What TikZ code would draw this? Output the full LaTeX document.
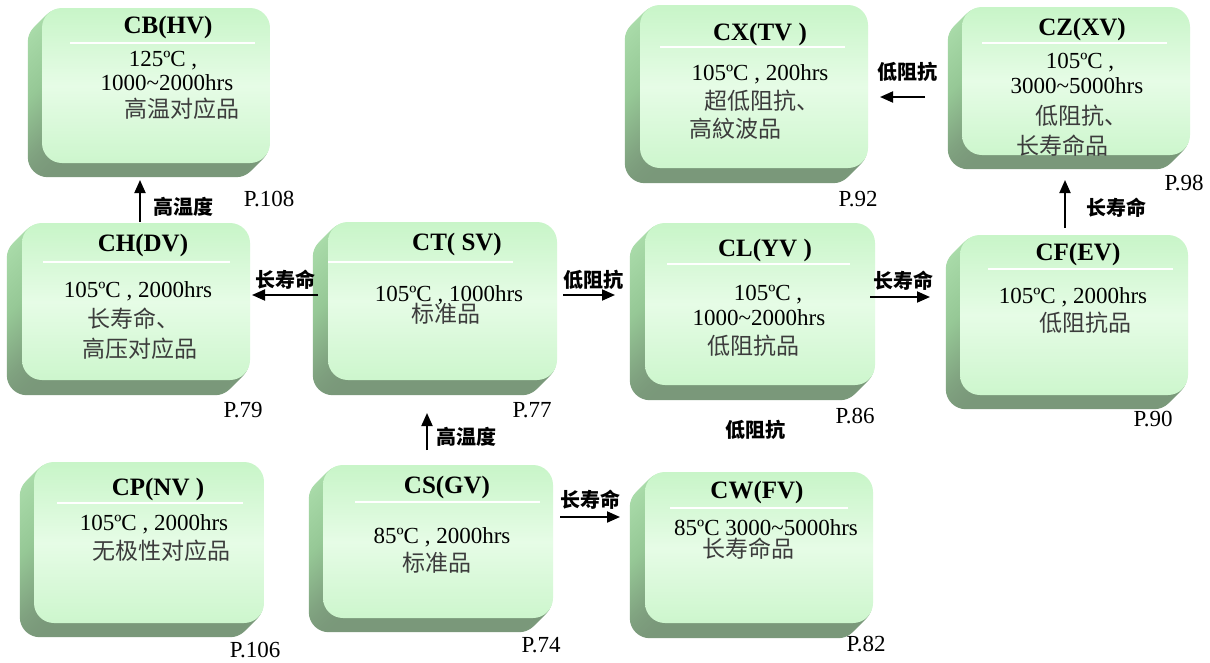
\documentclass[tikz,border=0pt]{standalone}
\usepackage{fontspec}
\setmainfont{Liberation Serif}
\newfontfamily\cjk{Noto Sans CJK SC}
\usetikzlibrary{arrows.meta,backgrounds,calc}
\definecolor{facetop}{RGB}{200,245,200}
\definecolor{facemid}{RGB}{230,252,230}
\definecolor{facebot}{RGB}{205,246,205}
\definecolor{sidetop}{RGB}{172,222,172}
\definecolor{sidemid}{RGB}{150,200,150}
\definecolor{sidebot}{RGB}{122,152,122}
\definecolor{cntext}{RGB}{60,60,60}
\tikzset{
  face/.style={rounded corners=20pt, draw=none, inner sep=0pt, top color=facetop, bottom color=facebot, middle color=facemid},
  side/.style={rounded corners=20pt, top color=sidetop, bottom color=sidebot, middle color=sidemid},
  ttl/.style={font=\fontsize{25}{28}\selectfont\bfseries, anchor=base, yshift=-8.5pt, inner sep=0pt},
  lat/.style={font=\fontsize{23}{26}\selectfont, anchor=base, yshift=-8pt, inner sep=0pt},
  cn/.style={font=\cjk\fontsize{23}{26}\selectfont, text=cntext, anchor=base, yshift=-9pt, inner sep=0pt},
  pg/.style={lat},
  lbl/.style={font=\cjk\bfseries\fontsize{20}{24}\selectfont, anchor=base, yshift=-7.5pt, inner sep=0pt},
  arr/.style={line width=1.9pt, -{Triangle[length=13pt,width=11pt]}},
  tline/.style={white, line width=2pt},
}
\newcommand\capbox[6]{%
  \node[face, minimum width=#4pt, minimum height=#5pt] (#1) at (#2,#3) {};
  \begin{scope}[on background layer]
    \foreach \i in {#6,...,1}
      \path[side] ($(#1.south west)+(-\i,\i)$) rectangle ($(#1.north east)+(-\i,\i)$);
  \end{scope}
}
\begin{document}
\begin{tikzpicture}[x=1pt,y=-1pt]
\begin{scope}[on background layer]
  \fill[white] (0,0) rectangle (1210,662);
\end{scope}
\useasboundingbox (0,0) rectangle (1210,662);

% CB
\capbox{cb}{156}{85.5}{228}{155}{14}
\draw[tline] (70,43) -- (255,43);
\node[ttl] (cbt) at (168,25) {CB(HV)};
\node[lat] (cb1) at (163,58) {125ºC ,};
\node[lat] (cb2) at (167,82) {1000\textasciitilde2000hrs};
\node[cn] (cb3) at (182,108) {高温对应品};
\node[pg] (cbp) at (269,198) {P.108};

% CH
\capbox{ch}{136}{301.5}{228}{157}{15}
\draw[tline] (43,262) -- (230,262);
\node[ttl] (cht) at (143,243) {CH(DV)};
\node[lat] (ch1) at (138,289) {105ºC , 2000hrs};
\node[cn] (ch2) at (133,318) {长寿命、};
\node[cn] (ch3) at (140,348) {高压对应品};
\node[pg] (chp) at (243,409) {P.79};

% CT
\capbox{ct}{442.5}{301}{229}{158}{15}
\draw[tline] (328,262) -- (513,262);
\node[ttl] (ctt) at (457,242) {CT( SV)};
\node[lat] (ct1) at (449,293) {105ºC , 1000hrs};
\node[cn] (ct2) at (446,313) {标准品};
\node[pg] (ctp) at (532,409) {P.77};

% CL
\capbox{cl}{760}{304}{230}{162}{15}
\draw[tline] (667,264) -- (850,264);
\node[ttl] (clt) at (765,248) {CL(YV )};
\node[lat] (cl1) at (768,292) {105ºC ,};
\node[lat] (cl2) at (759,317) {1000\textasciitilde2000hrs};
\node[cn] (cl3) at (753,345) {低阻抗品};
\node[pg] (clp) at (855,415) {P.86};

% CF
\capbox{cf}{1074}{315}{228}{160}{14}
\draw[tline] (988,269) -- (1173,269);
\node[ttl] (cft) at (1078,252) {CF(EV)};
\node[lat] (cf1) at (1073,295) {105ºC , 2000hrs};
\node[cn] (cf2) at (1085,322) {低阻抗品};
\node[pg] (cfp) at (1153,418) {P.90};

% CX
\capbox{cx}{754}{86.5}{228}{163}{15}
\draw[tline] (660,47) -- (845,47);
\node[ttl] (cxt) at (760,32) {CX(TV )};
\node[lat] (cx1) at (760,72) {105ºC , 200hrs};
\node[cn] (cx2) at (762,100) {超低阻抗、};
\node[cn] (cx3) at (735,128) {高紋波品};
\node[pg] (cxp) at (858,198) {P.92};

% CZ
\capbox{cz}{1076}{81}{228}{148}{14}
\draw[tline] (982,43) -- (1167,43);
\node[ttl] (czt) at (1082,27) {CZ(XV)};
\node[lat] (cz1) at (1080,60) {105ºC ,};
\node[lat] (cz2) at (1077,85) {3000\textasciitilde5000hrs};
\node[cn] (cz3) at (1081,115) {低阻抗、};
\node[cn] (cz4) at (1062,145) {长寿命品};
\node[pg] (czp) at (1184,182) {P.98};

% CP
\capbox{cp}{149}{542.5}{230}{161}{14}
\draw[tline] (57,503) -- (243,503);
\node[ttl] (cpt) at (158,487) {CP(NV )};
\node[lat] (cp1) at (154,522) {105ºC , 2000hrs};
\node[cn] (cp2) at (161,550) {无极性对应品};
\node[pg] (cpp) at (255,649) {P.106};

% CS
\capbox{cs}{438}{541.5}{230}{153}{14}
\draw[tline] (355,502) -- (540,502);
\node[ttl] (cst) at (447,485) {CS(GV)};
\node[lat] (cs1) at (442,535) {85ºC , 2000hrs};
\node[cn] (cs2) at (437,562) {标准品};
\node[pg] (csp) at (541,644) {P.74};

% CW
\capbox{cw}{759}{547.5}{228}{151}{15}
\draw[tline] (670,508) -- (848,508);
\node[ttl] (cwt) at (757,490) {CW(FV)};
\node[lat] (cw1) at (766,527) {85ºC 3000\textasciitilde5000hrs};
\node[cn] (cw2) at (748,548) {长寿命品};
\node[pg] (cwp) at (866,643) {P.82};

% arrows
\coordinate (a1s) at (140,222); \coordinate (a1e) at (140,180);
\draw[arr] (a1s) -- (a1e);
\node[lbl] (a1l) at (183,207) {高温度};

\coordinate (a2s) at (318,295); \coordinate (a2e) at (252,295);
\draw[arr] (a2s) -- (a2e);
\node[lbl] (a2l) at (285,280) {长寿命};

\coordinate (a3s) at (563,295); \coordinate (a3e) at (615,295);
\draw[arr] (a3s) -- (a3e);
\node[lbl] (a3l) at (593,280) {低阻抗};

\coordinate (a4s) at (870,297); \coordinate (a4e) at (930,297);
\draw[arr] (a4s) -- (a4e);
\node[lbl] (a4l) at (903,281) {长寿命};

\coordinate (a5s) at (1065,228); \coordinate (a5e) at (1065,180);
\draw[arr] (a5s) -- (a5e);
\node[lbl] (a5l) at (1116,208) {长寿命};

\coordinate (a6s) at (925,97); \coordinate (a6e) at (880,97);
\draw[arr] (a6s) -- (a6e);
\node[lbl] (a6l) at (907,72) {低阻抗};

\coordinate (a7s) at (427,450); \coordinate (a7e) at (427,413);
\draw[arr] (a7s) -- (a7e);
\node[lbl] (a7l) at (466,437) {高温度};

\coordinate (a8s) at (560,517); \coordinate (a8e) at (620,517);
\draw[arr] (a8s) -- (a8e);
\node[lbl] (a8l) at (590,500) {长寿命};

\node[lbl] (lz) at (755,430) {低阻抗};
\end{tikzpicture}
\end{document}
